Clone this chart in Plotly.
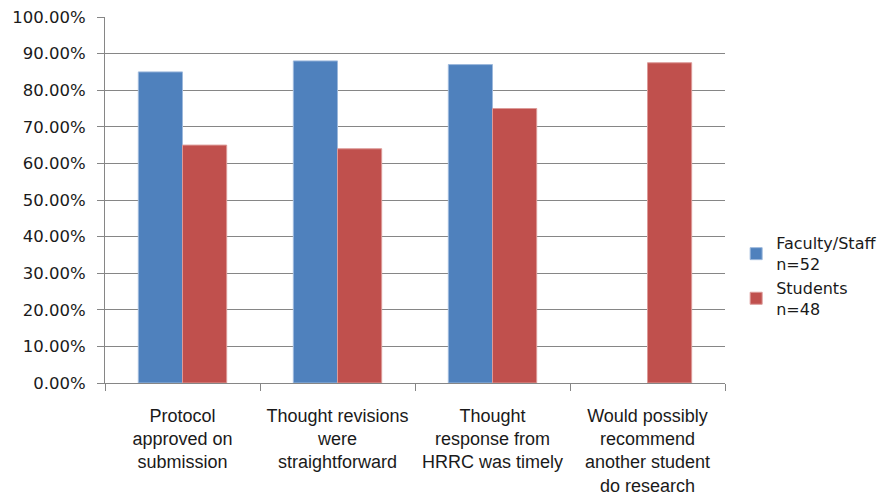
import plotly.graph_objects as go

categories = [
    "Protocol<br>approved on<br>submission",
    "Thought revisions<br>were<br>straightforward",
    "Thought<br>response from<br>HRRC was timely",
    "Would possibly<br>recommend<br>another student<br>do research",
]
faculty_values = [0.85, 0.88, 0.87, None]
student_values = [0.65, 0.64, 0.75, 0.875]
series_names = ["Faculty/Staff<br>n=52", "Students<br>n=48"]
y_tickvals = [0, 0.1, 0.2, 0.3, 0.4, 0.5, 0.6, 0.7, 0.8, 0.9, 1.0]

FONT = "DejaVu Sans"
fig = go.Figure()
fig.add_trace(go.Bar(x=categories, y=faculty_values, name=series_names[0],
                     marker=dict(color="#4F81BD", line=dict(color="#9DB9DC", width=1))))
fig.add_trace(go.Bar(x=categories, y=student_values, name=series_names[1],
                     marker=dict(color="#C0504D", line=dict(color="#DC9A98", width=1))))

fig.update_layout(
    width=887, height=502,
    margin=dict(l=97, r=170, t=9, b=127, autoexpand=False),
    paper_bgcolor="white", plot_bgcolor="white",
    font=dict(family=FONT, size=16, color="#1a1a1a"),
    barmode="group", bargap=0.43, bargroupgap=0,
    showlegend=True,
    legend=dict(x=1.018, xanchor="left", y=0.428, yanchor="top",
                font=dict(family=FONT, size=16, color="#1a1a1a"),
                itemwidth=30, tracegroupgap=0, bgcolor="rgba(0,0,0,0)"),
)
fig.update_xaxes(
    showline=True, linecolor="#868686", linewidth=1,
    ticks="outside", tickson="boundaries", ticklen=7, tickcolor="#868686",
    showgrid=False, tickangle=0, automargin=False,
    tickfont=dict(family="Liberation Sans", size=18),
    ticklabelstandoff=16, ticklabeloverflow="allow",
)
fig.update_yaxes(
    range=[0, 1], tickvals=y_tickvals, tickformat=".2%",
    showline=True, linecolor="#868686", linewidth=1,
    ticks="outside", ticklen=7, tickcolor="#868686",
    showgrid=True, gridcolor="#868686", gridwidth=1,
    tickfont=dict(size=16.5), zeroline=False, automargin=False,
    ticklabelstandoff=8, ticklabeloverflow="allow",
)

fig.write_html("out.html")
